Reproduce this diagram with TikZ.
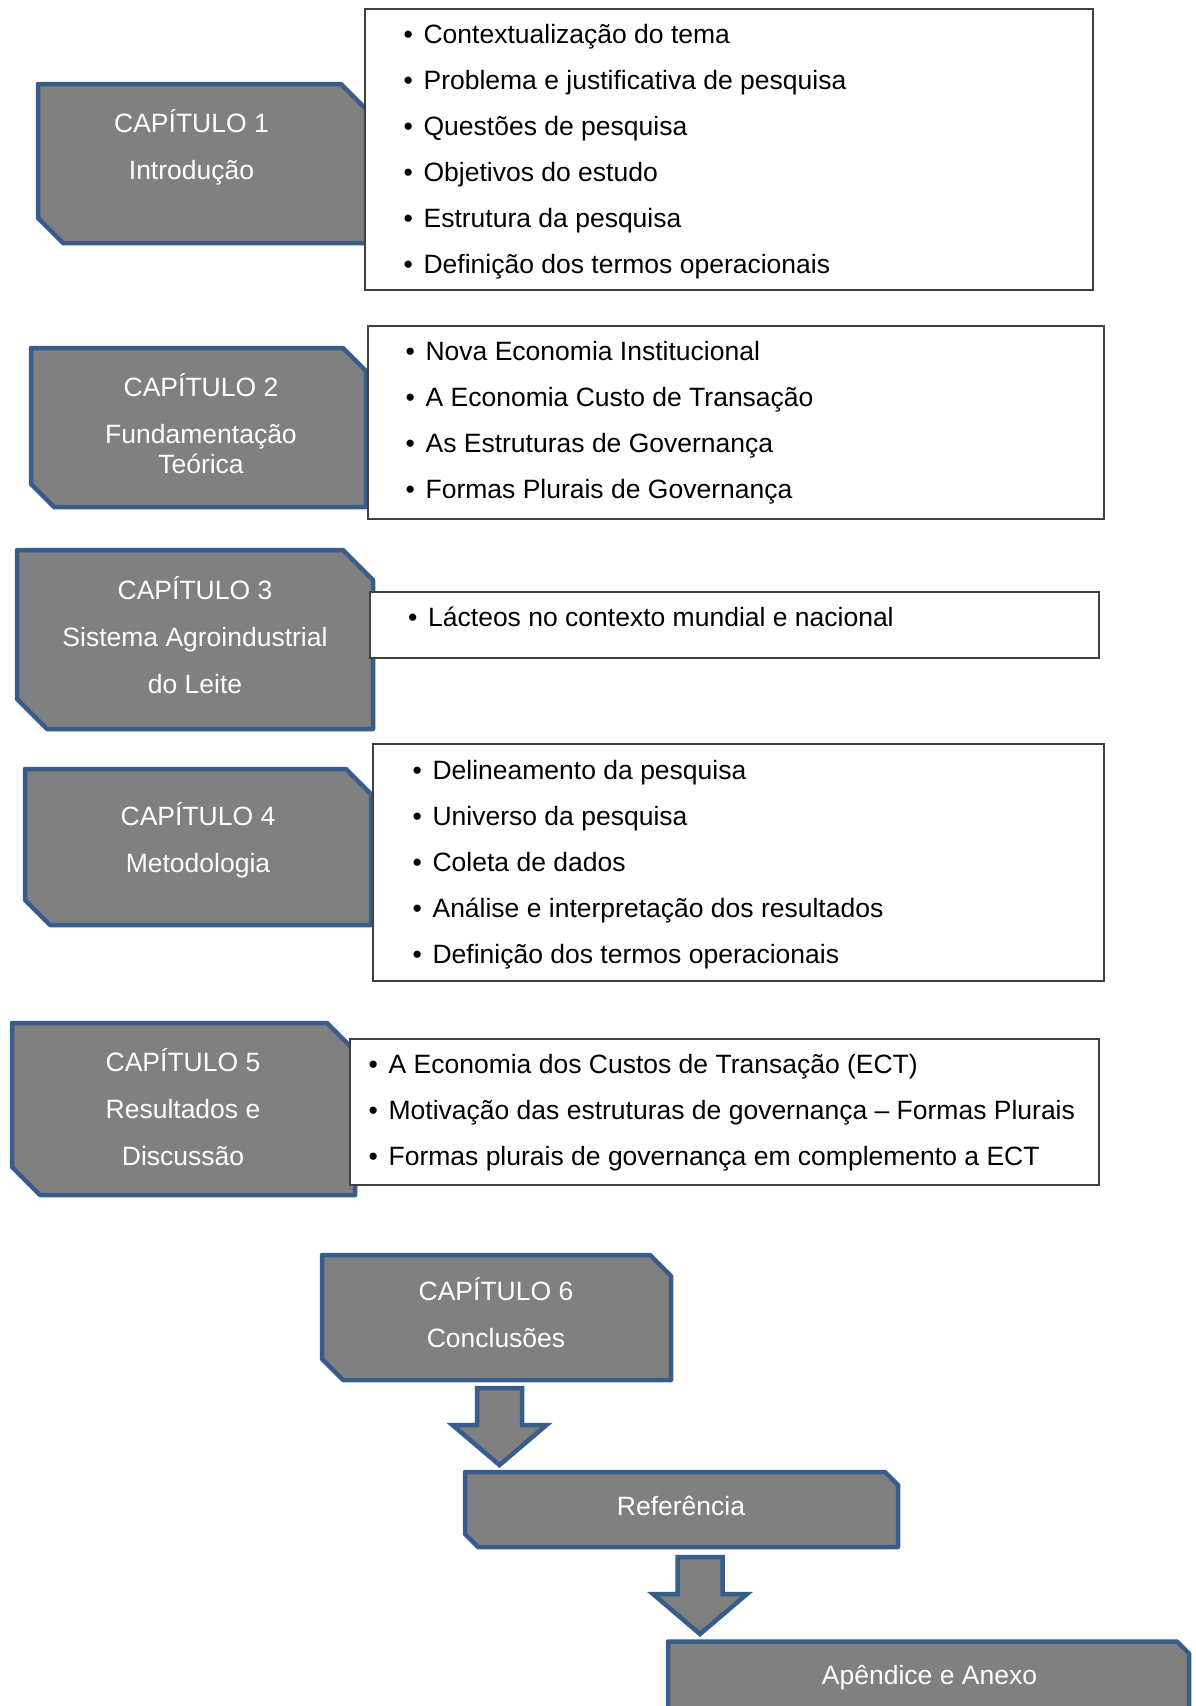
\documentclass[tikz,border=0pt]{standalone}
\usepackage{fontspec}
\setmainfont{Liberation Sans}
\definecolor{chapgrey}{HTML}{808080}
\definecolor{chapblue}{HTML}{385D8A}
\definecolor{lstline}{HTML}{404040}
\tikzset{
  chap/.style={rectangle, inner sep=0pt, outer sep=0pt},
  chapline/.style={draw=chapblue, fill=chapgrey, line width=4.5pt, line join=round},
  lst/.style={rectangle, draw=lstline, fill=white, line width=1.3pt, inner sep=0pt},
  chaptxt/.style={text=white, align=center, inner sep=0pt, font=\fontsize{26.5}{47}\selectfont},
  items/.style={anchor=west, align=left, inner sep=0pt, font=\fontsize{26.5}{46}\selectfont},
  blockarr/.style={draw=chapblue, fill=chapgrey, line width=4.5pt, line join=miter},
}
\newcommand{\itm}{\strut\makebox[20pt][l]{•}}
\newcommand{\hd}{\strut}
% grey box with cut top-right and bottom-left corners
\newcommand{\cutbox}[2]{%
  \draw[chapline] (#1.north west) -- ([xshift=-#2]#1.north east) -- ([yshift=-#2]#1.north east)
    -- (#1.south east) -- ([xshift=#2]#1.south west) -- ([yshift=#2]#1.south west) -- cycle;}
% block arrow pointing down: centre x, top y
\newcommand{\downblock}[2]{%
  \draw[blockarr] (#1-22.5,#2) -- (#1+22.5,#2) -- (#1+22.5,#2+37) -- (#1+47,#2+37)
    -- (#1,#2+77) -- (#1-47,#2+37) -- (#1-22.5,#2+37) -- cycle;}

\begin{document}
\begin{tikzpicture}[x=1pt, y=-1pt]
  \fill[white] (0,0) rectangle (1195,1706);
  \path[use as bounding box, clip] (0,0) rectangle (1195,1706);

  % chapter boxes
  \node[chap, minimum width=328pt, minimum height=159pt] (c1) at (202,163.5) {};
  \node[chap, minimum width=335pt, minimum height=159pt] (c2) at (198.5,427.5) {};
  \node[chap, minimum width=356pt, minimum height=179pt] (c3) at (195,639.5) {};
  \node[chap, minimum width=346pt, minimum height=156pt] (c4) at (198,847) {};
  \node[chap, minimum width=343pt, minimum height=172pt] (c5) at (183.5,1109) {};
  \node[chap, minimum width=349pt, minimum height=125pt] (c6) at (496.5,1317.5) {};
  \node[chap, minimum width=433pt, minimum height=75pt] (ref) at (681.5,1509.5) {};
  \node[chap, minimum width=521pt, minimum height=81pt] (apx) at (928.5,1682) {};
  \cutbox{c1}{25pt}
  \cutbox{c2}{23pt}
  \cutbox{c3}{30pt}
  \cutbox{c4}{25pt}
  \cutbox{c5}{28pt}
  \cutbox{c6}{21pt}
  \cutbox{ref}{13pt}
  \cutbox{apx}{12pt}

  % topic lists
  \node[lst, minimum width=728pt, minimum height=281pt] (w1) at (729,149.5) {};
  \node[lst, minimum width=736pt, minimum height=193pt] (w2) at (736,422.5) {};
  \node[lst, minimum width=729pt, minimum height=66pt] (w3) at (734.5,625) {};
  \node[lst, minimum width=731pt, minimum height=237pt] (w4) at (738.5,862.5) {};
  \node[lst, minimum width=749pt, minimum height=146pt] (w5) at (724.5,1112) {};

  % arrows
  \downblock{499.5}{1388}
  \downblock{700}{1557}

  % chapter titles
  \node[chaptxt] (t1) at (191.5,146.5) {\hd CAPÍTULO 1\\\hd Introdução};
  \node[chaptxt] (t2) at (201,425.5) {\hd CAPÍTULO 2\\\hd Fundamentação\\[-17pt]\hd Teórica};
  \node[chaptxt] (t3) at (195,637) {\hd CAPÍTULO 3\\\hd Sistema Agroindustrial\\\hd do Leite};
  \node[chaptxt] (t4) at (198,840) {\hd CAPÍTULO 4\\\hd Metodologia};
  \node[chaptxt] (t5) at (183,1109) {\hd CAPÍTULO 5\\\hd Resultados e\\\hd Discussão};
  \node[chaptxt] (t6) at (496,1315) {\hd CAPÍTULO 6\\\hd Conclusões};
  \node[chaptxt] (tref) at (681,1506) {\hd Referência};
  \node[chaptxt] (tapx) at (929.5,1675) {\hd Apêndice e Anexo};

  % list items
  \node[items] (l1) at (403.4,149.75) {\itm Contextualização do tema\\\itm Problema e justificativa de pesquisa\\\itm Questões de pesquisa\\\itm Objetivos do estudo\\\itm Estrutura da pesquisa\\\itm Definição dos termos operacionais};
  \node[items] (l2) at (405.4,420.75) {\itm Nova Economia Institucional\\\itm A Economia Custo de Transação\\\itm As Estruturas de Governança\\\itm Formas Plurais de Governança};
  \node[items] (l3) at (408,617) {\itm Lácteos no contexto mundial e nacional};
  \node[items] (l4) at (412.4,862.5) {\itm Delineamento da pesquisa\\\itm Universo da pesquisa\\\itm Coleta de dados\\\itm Análise e interpretação dos resultados\\\itm Definição dos termos operacionais};
  \node[items] (l5) at (368.4,1110.75) {\itm A Economia dos Custos de Transação (ECT)\\\itm Motivação das estruturas de governança – Formas Plurais\\\itm Formas plurais de governança em complemento a ECT};
\end{tikzpicture}
\end{document}
